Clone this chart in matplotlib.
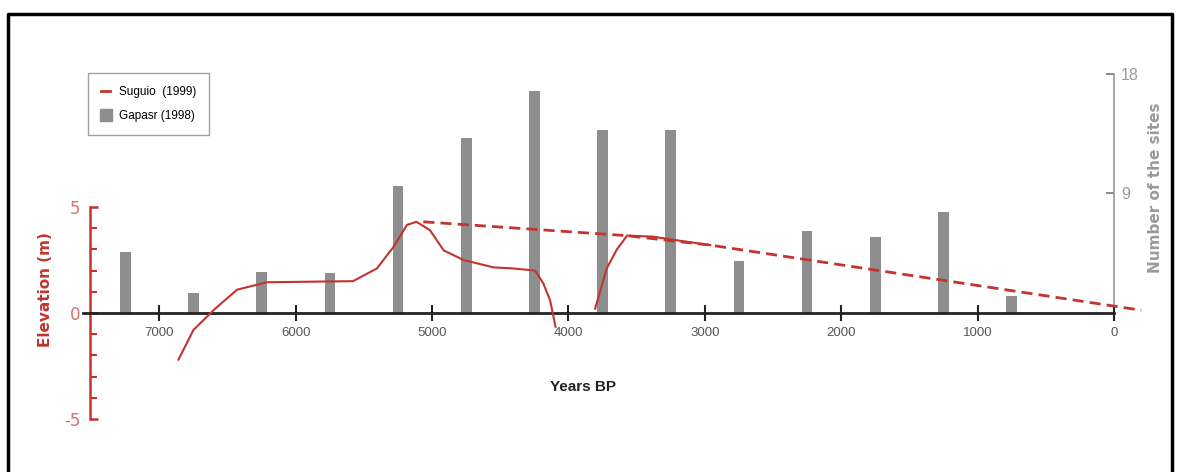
import matplotlib
matplotlib.use("Agg")
import matplotlib.pyplot as plt
from matplotlib.lines import Line2D
from matplotlib.ticker import FixedLocator

W, H = 1178, 472
RED = "#c4332d"
RED_LIGHT = "#d8706c"
GRAY_BAR = "#8e8e8e"
GRAY_TXT = "#9a9a9a"
NARROW = ["Liberation Sans Narrow", "Liberation Sans", "DejaVu Sans"]

# Gapasr (1998): number of sites per 500-year bin
bar_years = [7250, 6750, 6250, 5750, 5250, 4750, 4250, 3750, 3250, 2750, 2250, 1750, 1250, 750]
bar_sites = [4.6, 1.5, 3.1, 3.0, 9.6, 13.2, 16.7, 13.8, 13.8, 3.9, 6.2, 5.7, 7.6, 1.3]

# Suguio (1999): relative sea level curve, two solid pieces plus dashed envelope
curve1_years = [6860, 6750, 6600, 6430, 6210, 5580, 5405, 5285, 5185, 5115, 5015,
                4915, 4770, 4550, 4405, 4245, 4185, 4135, 4095]
curve1_elev = [-2.2, -0.8, 0.15, 1.1, 1.45, 1.5, 2.1, 3.1, 4.15, 4.3, 3.9,
               2.95, 2.5, 2.15, 2.1, 2.0, 1.4, 0.6, -0.65]
curve2_years = [3805, 3720, 3645, 3570, 3380, 3230, 2960]
curve2_elev = [0.2, 2.1, 3.0, 3.65, 3.6, 3.45, 3.2]
dash_years = [5065, 3580, 2960, -200]
dash_elev = [4.3, 3.65, 3.2, 0.13]

x_ticks = [7000, 6000, 5000, 4000, 3000, 2000, 1000, 0]
elev_major = [-5, 0, 5]
elev_minor = [-4, -3, -2, -1, 1, 2, 3, 4]
site_ticks = [9, 18]


def px(x, y):
    """pixel (top-left origin) -> figure fraction"""
    return x / W, 1 - y / H


fig = plt.figure(figsize=(W / 100, H / 100), dpi=100)
fig.patch.set_facecolor("white")

left, bottom = px(83, 440)
right, top = px(1150, 60)
ax = fig.add_axes([left, bottom, right - left, top - bottom])
ax2 = ax.twinx()
ax.set_zorder(ax2.get_zorder() + 1)
ax.patch.set_visible(False)

ax.set_xlim(7560, -264)
ax.set_ylim(-5.99, 11.93)
ax2.set_ylim(-9.56, 19.05)

# bars
ax2.bar(bar_years, bar_sites, width=78, color=GRAY_BAR, zorder=2)

# curves
ax.plot(dash_years, dash_elev, color=RED, lw=2.0, dashes=(4, 2.2), zorder=3, clip_on=False)
ax.plot(curve1_years, curve1_elev, color=RED, lw=1.5, zorder=4)
ax.plot(curve2_years, curve2_elev, color=RED, lw=1.5, zorder=4)

# spines of the elevation axis
for s in ["top", "right"]:
    ax.spines[s].set_visible(False)
ax.spines["left"].set_position(("data", 7507))
ax.spines["left"].set_bounds(-5, 5)
ax.spines["left"].set_color(RED)
ax.spines["left"].set_linewidth(1.8)
ax.spines["bottom"].set_position(("data", 0))
ax.spines["bottom"].set_bounds(7560, 0)
ax.spines["bottom"].set_color("#222222")
ax.spines["bottom"].set_linewidth(2.0)

ax.set_yticks(elev_major)
ax.set_yticklabels([str(v) for v in elev_major])
ax.yaxis.set_minor_locator(FixedLocator(elev_minor))
ax.tick_params(axis="y", which="major", direction="in", length=6, width=1.8,
               color=RED, labelcolor=RED_LIGHT, labelsize=12, pad=7)
ax.tick_params(axis="y", which="minor", direction="in", length=5, width=1.5, color=RED)

ax.set_xticks(x_ticks)
ax.set_xticklabels([str(t) for t in x_ticks])
ax.tick_params(axis="x", direction="inout", length=12, width=1.5, color="#222222",
               labelcolor="#555555", labelsize=9.5, pad=4)
for lab in ax.get_xticklabels():
    lab.set_family(NARROW)

# spines of the sites axis
for s in ["top", "left", "bottom"]:
    ax2.spines[s].set_visible(False)
ax2.spines["right"].set_position(("data", 0))
ax2.spines["right"].set_bounds(0, 18)
ax2.spines["right"].set_color(GRAY_TXT)
ax2.spines["right"].set_linewidth(1.2)
ax2.set_yticks(site_ticks)
ax2.set_yticklabels([str(v) for v in site_ticks])
ax2.tick_params(axis="y", direction="in", length=6, width=1.2, color="#777777",
                labelcolor=GRAY_TXT, labelsize=11.5, pad=5)
for lab in ax2.get_yticklabels():
    lab.set_family(NARROW)

# axis titles
fig.text(*px(46, 290), "Elevation (m)", rotation=90, color=RED, fontsize=11,
         fontweight="bold", ha="center", va="center")
fig.text(*px(1155, 188), "Number of the sites", rotation=90, color=GRAY_TXT,
         fontsize=11, fontweight="bold", ha="center", va="center")
fig.text(*px(583, 387), "Years BP", color="#222222", fontsize=11,
         fontweight="bold", ha="center", va="center", family=NARROW)

# legend
handles = [
    Line2D([], [], color=RED, lw=2),
    Line2D([], [], color=GRAY_BAR, marker="s", markersize=9, lw=0),
]
leg = fig.legend(handles, ["Suguio  (1999)", "Gapasr (1998)"],
                 loc="upper left", bbox_to_anchor=px(88, 73), bbox_transform=fig.transFigure,
                 borderaxespad=0, fancybox=False, frameon=True, handlelength=0.8,
                 handletextpad=0.7, borderpad=1.1, labelspacing=1.0,
                 prop={"size": 8.5, "family": NARROW})
leg.get_frame().set_edgecolor("#888888")
leg.get_frame().set_linewidth(1.0)

# outer frame (left, top, right)
x0, y0 = px(7.5, 14)
x1, _ = px(1172, 14)
fig.add_artist(Line2D([x0, x0, x1, x1], [0, y0, y0, 0], color="black", lw=2.5,
                      transform=fig.transFigure))

fig.savefig("out.png", dpi=100)
